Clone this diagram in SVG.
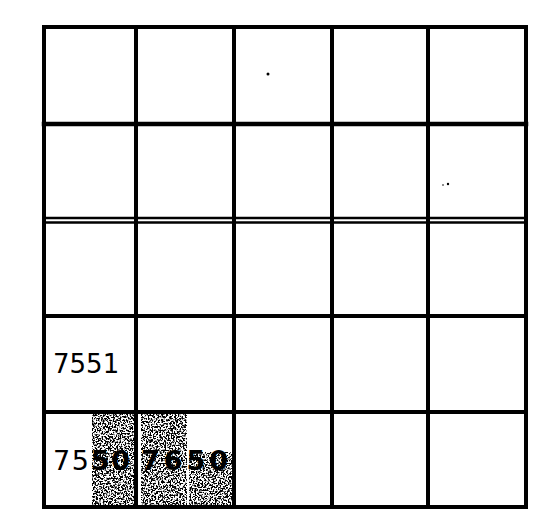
<svg xmlns="http://www.w3.org/2000/svg" width="555" height="512" viewBox="0 0 555 512">
<style>
.g{stroke:#000;stroke-linecap:square;fill:none}
.t{font-family:"DejaVu Sans","Liberation Sans",Arial,sans-serif;fill:#000}
.b{font-weight:bold}
</style>
<defs>
<filter id="speck" x="0" y="0" width="1" height="1">
<feTurbulence type="fractalNoise" baseFrequency="0.6" numOctaves="2" seed="3" result="n"/>
<feColorMatrix in="n" type="matrix" values="0 0 0 0 0  0 0 0 0 0  0 0 0 0 0  0 0 0 -9 4.9" result="a"/>
<feComposite in="a" in2="SourceGraphic" operator="in"/>
</filter>
</defs>
<rect width="555" height="512" fill="#fff"/>
<g id="shading">
<rect x="92" y="412" width="44" height="95" fill="#000" filter="url(#speck)"/>
<rect x="141" y="412" width="46" height="95" fill="#000" filter="url(#speck)"/>
<rect x="189" y="452" width="44" height="55" fill="#000" filter="url(#speck)"/>
</g>
<g id="grid" class="g">
<rect x="44" y="27" width="482" height="480" stroke-width="4"/>
<line x1="136" y1="27" x2="136" y2="507" stroke-width="4"/>
<line x1="234" y1="27" x2="234" y2="507" stroke-width="4"/>
<line x1="332" y1="27" x2="332" y2="507" stroke-width="4"/>
<line x1="428" y1="27" x2="428" y2="507" stroke-width="4"/>
<line x1="44" y1="124" x2="526" y2="124" stroke-width="4.5"/>
<line x1="44" y1="218" x2="526" y2="218" stroke-width="2.5"/>
<line x1="44" y1="222.5" x2="526" y2="222.5" stroke-width="2.5"/>
<line x1="44" y1="316" x2="526" y2="316" stroke-width="4"/>
<line x1="44" y1="412" x2="526" y2="412" stroke-width="4"/>
</g>
<g id="dots" fill="#000">
<circle cx="268" cy="74" r="1.5"/>
<circle cx="448" cy="184" r="1.2"/>
<circle cx="443" cy="185" r="0.8"/>
</g>
<g id="labels">
<text class="t" x="53" y="373" font-size="26">7551</text>
<text class="t" x="53" y="470" font-size="27" textLength="77" lengthAdjust="spacing">75<tspan class="b">50</tspan></text>
<text class="t b" x="141" y="470" font-size="27" textLength="87" lengthAdjust="spacing">7650</text>
</g>
</svg>
